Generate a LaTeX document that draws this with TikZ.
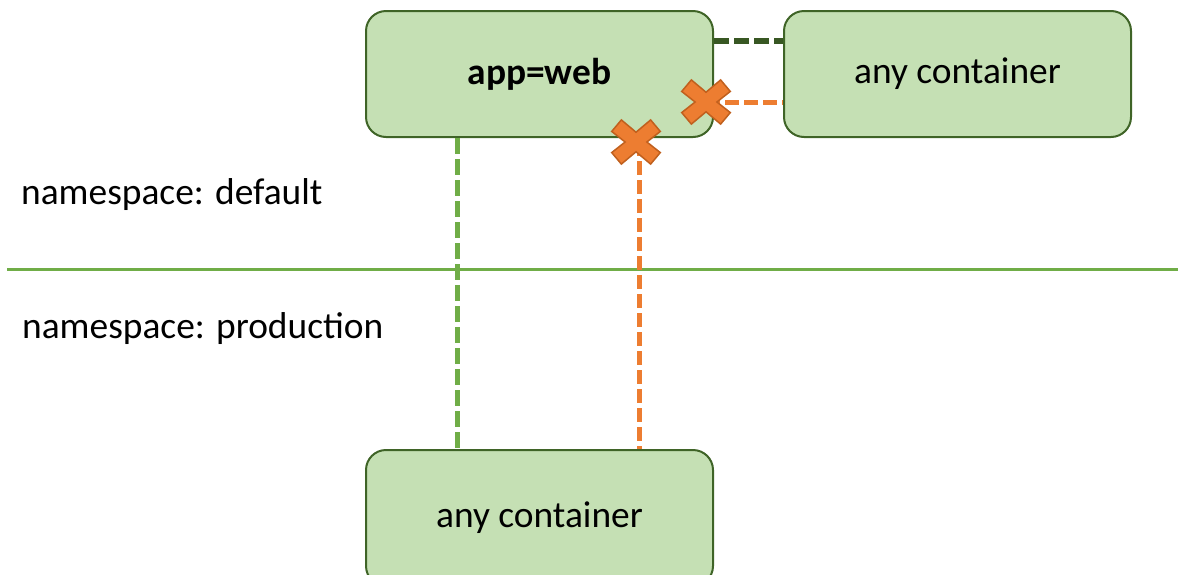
\documentclass[tikz,border=0pt]{standalone}
\usepackage{fontspec}
\setmainfont{Carlito}
\usetikzlibrary{calc}

\definecolor{boxfill}{HTML}{C5E0B4}
\definecolor{boxline}{HTML}{3F6427}
\definecolor{lightgreen}{HTML}{70AD47}
\definecolor{darkgreen}{HTML}{385723}
\definecolor{crossfill}{HTML}{ED7D31}
\definecolor{crossline}{HTML}{C0601E}

\tikzset{
  podbox/.style={draw=boxline, fill=boxfill, line width=2pt, rounded corners=20pt,
    minimum width=347pt, minimum height=126pt, inner sep=0pt,
    font=\fontsize{37.4}{44}\selectfont},
  nslabel/.style={anchor=base west, inner sep=0pt, font=\fontsize{37.4}{44}\selectfont},
  allowed/.style={draw=lightgreen, line width=5pt, dash pattern=on 16pt off 5pt},
  allowedlocal/.style={draw=darkgreen, line width=5.5pt, dash pattern=on 15pt off 5pt},
  denied/.style={draw=crossfill, line width=5pt, dash pattern=on 14pt off 5pt},
  xspot/.style={inner sep=0pt, minimum width=48pt, minimum height=41pt},
  crossshape/.style={fill=crossfill, draw=crossline, line width=1.5pt, line join=miter},
}

% an orange "multiply" cross centred on a named node
\newcommand\drawcross[1]{%
  \path[crossshape]
    ($(#1)+(10.9,0)$)
    -- ($(#1)+(40:25.4)+(-50:7.5)$) -- ($(#1)+(40:25.4)+(130:7.5)$)
    -- ($(#1)+(0,9.8)$)
    -- ($(#1)+(140:25.4)+(50:7.5)$) -- ($(#1)+(140:25.4)+(230:7.5)$)
    -- ($(#1)+(-10.9,0)$)
    -- ($(#1)+(220:25.4)+(130:7.5)$) -- ($(#1)+(220:25.4)+(310:7.5)$)
    -- ($(#1)+(0,-9.8)$)
    -- ($(#1)+(320:25.4)+(230:7.5)$) -- ($(#1)+(320:25.4)+(50:7.5)$)
    -- cycle;}

\begin{document}
\begin{tikzpicture}[x=1pt, y=-1pt]
  \useasboundingbox (0,0) rectangle (1178,574);

  % namespace divider and labels
  \coordinate (divL) at (7,269);
  \coordinate (divR) at (1178,269);
  \draw[lightgreen, line width=3pt] (divL) -- (divR);
  \node[nslabel] (nsdefault) at (21,204) {namespace: default};
  \node[nslabel] (nsprod) at (22,338) {namespace: production};

  % pods
  \node[podbox] (web) at (539.5,74) {\textbf{app=web}};
  \node[podbox] (peer) at (957.5,74) {any container};
  \node[podbox, minimum height=136pt] (prod) at (539.5,518) {any container};

  % cross marks
  \node[xspot] (xdown) at (636,142) {};
  \node[xspot] (xside) at (706,102) {};

  % connections
  \draw[allowedlocal] (web.east |- 0,41) -- (peer.west |- 0,41);
  \draw[denied] (xside.center) -- (peer.west |- xside.center);
  \draw[allowed] (web.south -| 457,0) -- (prod.north -| 457,0);
  \draw[denied] ($(xdown.center)+(3,0)$) -- (prod.north -| 639,0);

  \drawcross{xdown}
  \drawcross{xside}
\end{tikzpicture}
\end{document}
